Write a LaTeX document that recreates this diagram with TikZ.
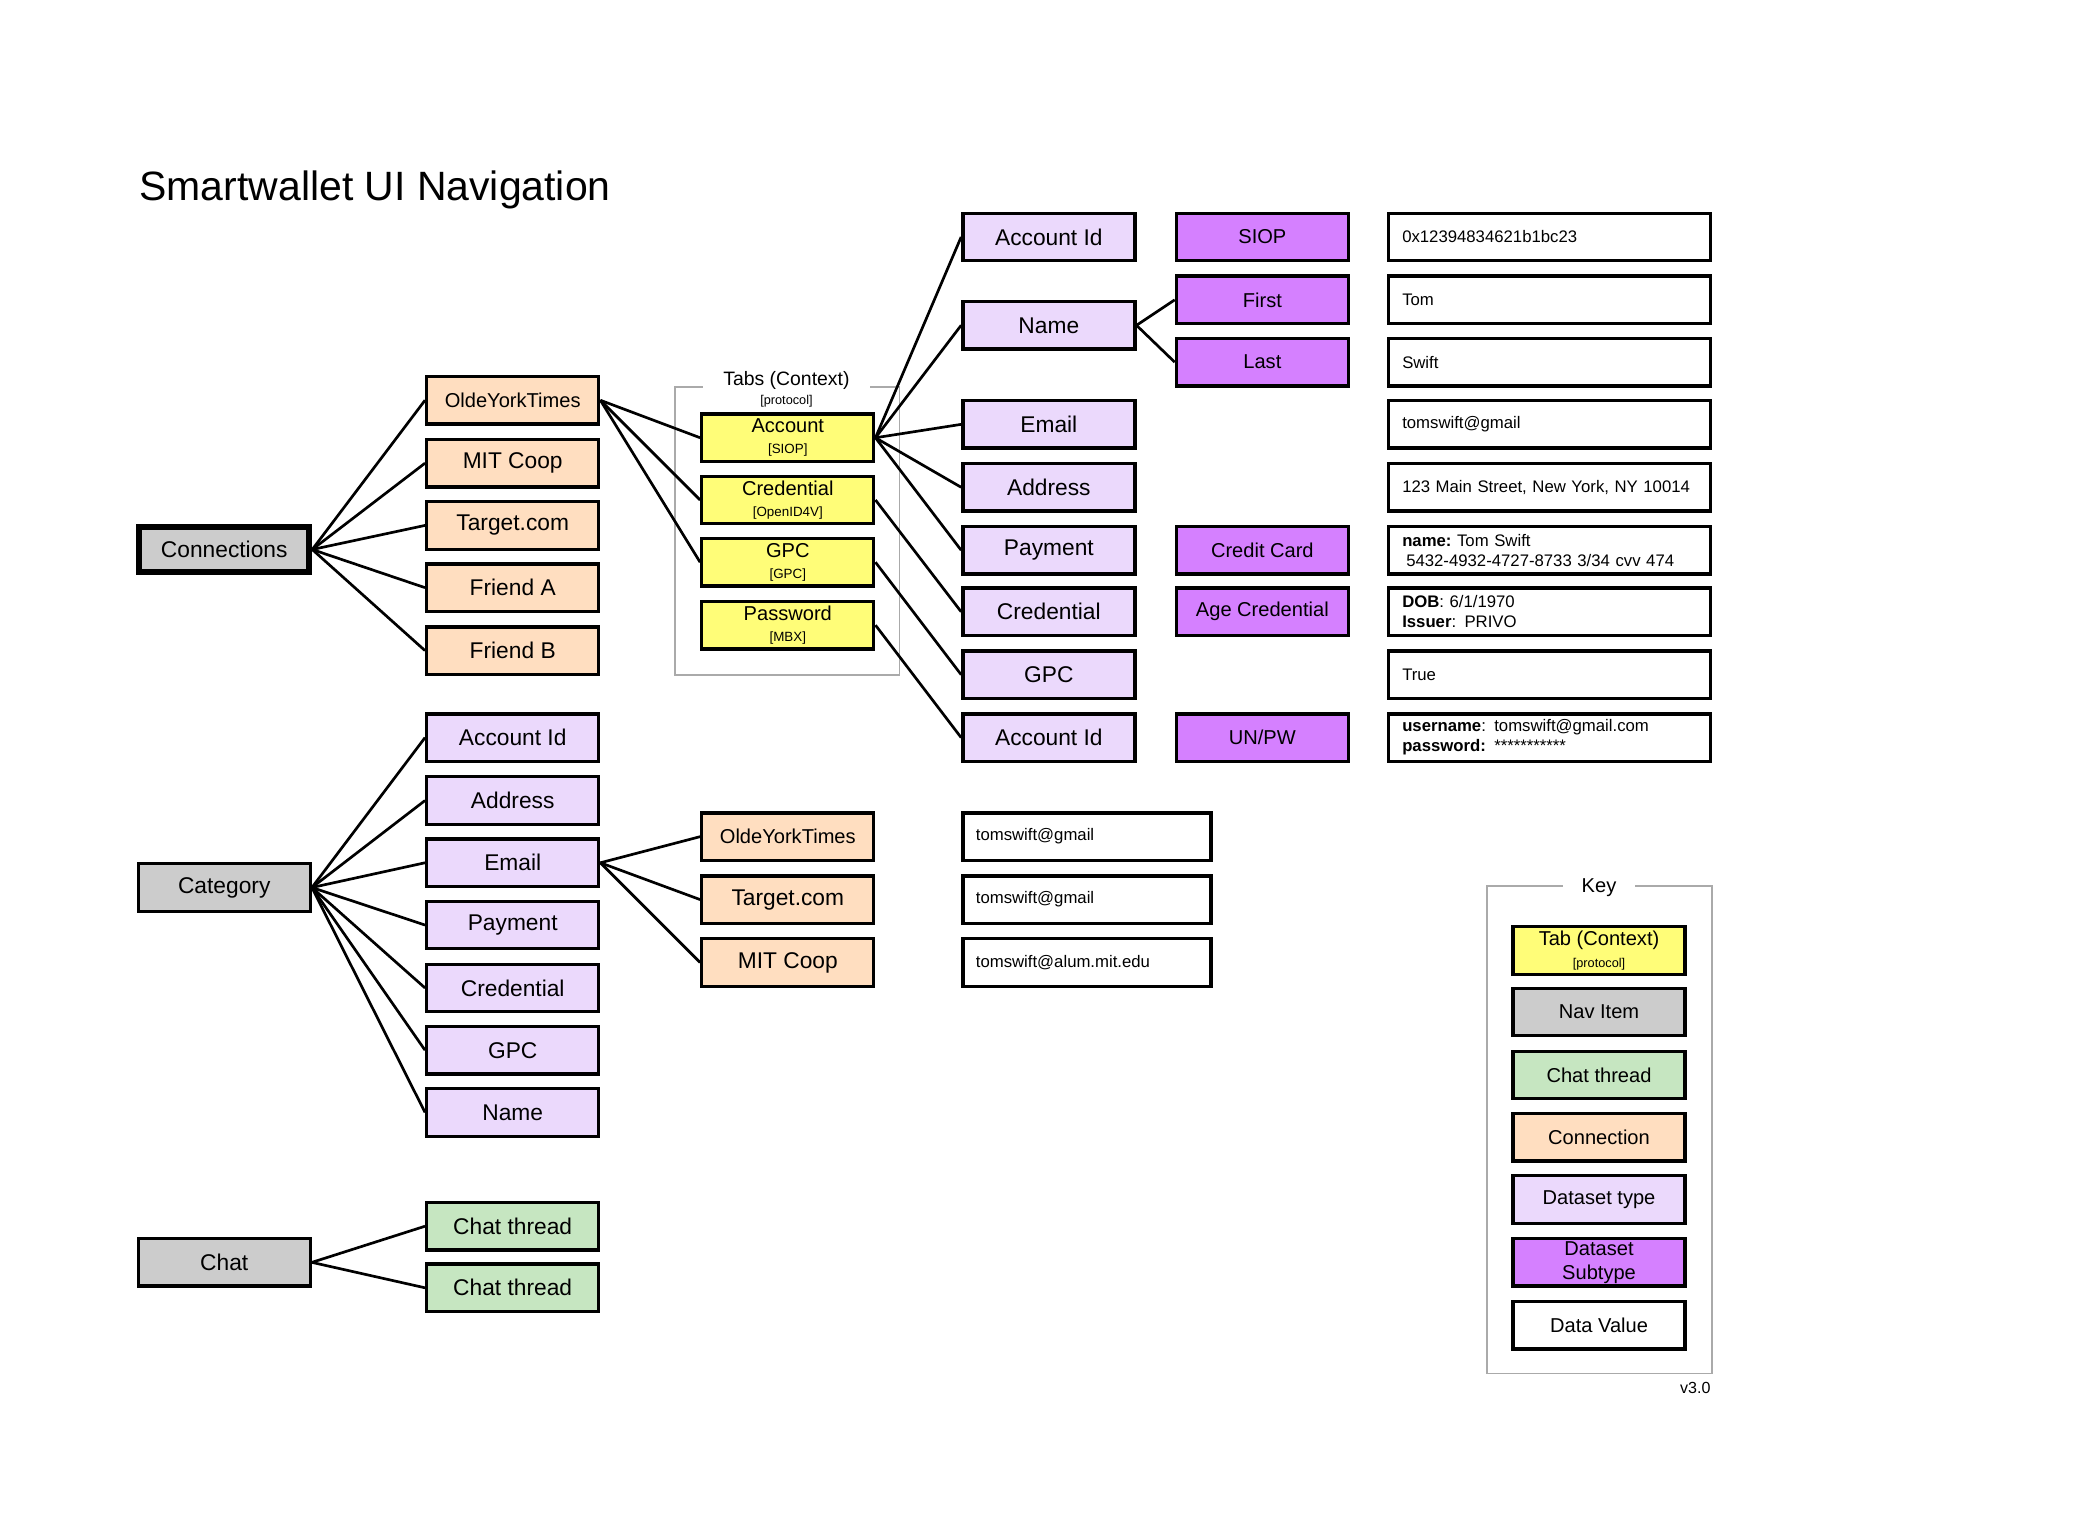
\documentclass[tikz,border=0pt]{standalone}
\usepackage{fontspec}
\setmainfont{Liberation Sans}
\definecolor{peach}{HTML}{FFDEC0}
\definecolor{lav}{HTML}{EBD9FC}
\definecolor{purp}{HTML}{D580FF}
\definecolor{yel}{HTML}{FFFD78}
\definecolor{navgray}{HTML}{CCCCCC}
\definecolor{chatgreen}{HTML}{C6E6C1}
\definecolor{grpgray}{HTML}{AAAAAA}
\tikzset{
  box/.style={draw=black, line width=2.5pt, minimum width=128.5pt, minimum height=35.5pt,
    inner sep=0pt, align=center, font=\fontsize{17}{20}\selectfont},
  nav/.style={box, fill=navgray},
  conn/.style={box, fill=peach},
  connsm/.style={box, fill=peach, font=\fontsize{15}{18}\selectfont},
  dtype/.style={box, fill=lav},
  dsub/.style={box, fill=purp, font=\fontsize{15}{18}\selectfont},
  tabbox/.style={box, fill=yel, font=\fontsize{15}{15}\selectfont},
  chatb/.style={box, fill=chatgreen},
  keybox/.style={box, font=\fontsize{15}{17}\selectfont},
  val/.style={box, fill=white, minimum width=240.5pt, text width=220pt, align=left,
    font=\fontsize{12.5}{15}\selectfont},
  lowval/.style={val, minimum width=185.5pt, text width=166pt},
  link/.style={line width=2pt},
  grp/.style={draw=grpgray, line width=1.3pt}
}
\newcommand{\subt}[1]{{\fontsize{10}{12}\selectfont #1}}
\begin{document}
\begin{tikzpicture}[x=1pt,y=-1pt]
\useasboundingbox (0,0) rectangle (1568,1149);
\fill[white] (0,0) rectangle (1568,1149);

% title
\node[anchor=base west, inner sep=0pt, font=\fontsize{30.6}{34}\selectfont] (title) at (104,150) {Smartwallet UI Navigation};

% groups
\draw[grp] (504,289) rectangle (672,504);
\node[fill=white, inner xsep=15pt, inner ysep=1pt, font=\fontsize{14.5}{16}\selectfont] (tabslbl) at (587.5,284) {Tabs (Context)};
\node[inner sep=0pt, font=\fontsize{9.5}{11}\selectfont] (protlbl) at (587.5,299.5) {[protocol]};

\draw[grp] (1111,662) rectangle (1279,1026);
\node[fill=white, inner xsep=14pt, inner ysep=1pt, font=\fontsize{15}{17}\selectfont] (keylbl) at (1194.5,663) {Key};
\node[anchor=east, inner sep=0pt, font=\fontsize{12}{14}\selectfont] (ver) at (1278,1037) {v3.0};

% left column
\node[nav, line width=4.5pt, minimum width=127pt, minimum height=34pt] (connections) at (167.5,410.5) {Connections};
\node[nav] (category) at (167.5,663) {Category};
\node[nav] (chat) at (167.5,943) {Chat};

% connections children
\node[connsm] (oyt) at (383,299) {OldeYorkTimes};
\node[conn] (mit) at (383,346) {MIT Coop};
\node[conn] (target) at (383,392.5) {Target.com};
\node[conn] (frienda) at (383,439) {Friend A};
\node[conn] (friendb) at (383,486) {Friend B};

% category children
\node[dtype] (cacct) at (383,551) {Account Id};
\node[dtype] (caddr) at (383,598) {Address};
\node[dtype] (cemail) at (383,644.5) {Email};
\node[dtype] (cpay) at (383,691) {Payment};
\node[dtype] (ccred) at (383,738) {Credential};
\node[dtype] (cgpc) at (383,784.5) {GPC};
\node[dtype] (cname) at (383,831) {Name};

% chat threads
\node[chatb] (ct1) at (383,916) {Chat thread};
\node[chatb] (ct2) at (383,962) {Chat thread};

% tabs
\node[tabbox] (tacct) at (588.5,327) {Account\\[1pt]\subt{[SIOP]}};
\node[tabbox] (tcred) at (588.5,373.5) {Credential\\[1pt]\subt{[OpenID4V]}};
\node[tabbox] (tgpc) at (588.5,420) {GPC\\[1pt]\subt{[GPC]}};
\node[tabbox] (tpw) at (588.5,467) {Password\\[1pt]\subt{[MBX]}};

% dataset types (right)
\node[dtype] (dacct) at (783.5,177) {Account Id};
\node[dtype] (dname) at (783.5,243) {Name};
\node[dtype] (demail) at (783.5,317) {Email};
\node[dtype] (daddr) at (783.5,364) {Address};
\node[dtype] (dpay) at (783.5,411) {Payment};
\node[dtype] (dcred) at (783.5,457) {Credential};
\node[dtype] (dgpc) at (783.5,504) {GPC};
\node[dtype] (dacct2) at (783.5,551) {Account Id};

% subtypes
\node[dsub] (ssiop) at (943,177) {SIOP};
\node[dsub] (sfirst) at (943,224) {First};
\node[dsub] (slast) at (943,270.5) {Last};
\node[dsub] (scc) at (943,411) {Credit Card};
\node[dsub] (sage) at (943,457) {Age Credential};
\node[dsub] (sunpw) at (943,551) {UN/PW};

% values
\node[val] (v1) at (1157.5,177) {0x12394834621b1bc23};
\node[val] (v2) at (1157.5,224) {Tom};
\node[val] (v3) at (1157.5,270.5) {Swift};
\node[val] (v4) at (1157.5,317) {tomswift@gmail};
\node[val] (v5) at (1157.5,364) {123 Main Street, New York, NY 10014};
\node[val] (v6) at (1157.5,411) {\textbf{name:}~Tom Swift\\\hspace*{3pt}5432-4932-4727-8733 3/34 cvv 474};
\node[val] (v7) at (1157.5,457) {\textbf{DOB}: 6/1/1970\\\textbf{Issuer}: PRIVO};
\node[val] (v8) at (1157.5,504) {True};
\node[val] (v9) at (1157.5,551) {\textbf{username}: tomswift@gmail.com\\\textbf{password:} ***********};

% lower middle
\node[connsm] (loyt) at (588.5,625) {OldeYorkTimes};
\node[conn] (ltarget) at (588.5,672) {Target.com};
\node[conn] (lmit) at (588.5,719) {MIT Coop};
\node[lowval] (lv1) at (812,625) {tomswift@gmail};
\node[lowval] (lv2) at (812,672) {tomswift@gmail};
\node[lowval] (lv3) at (812,719) {tomswift@alum.mit.edu};

% key
\node[keybox, fill=yel] (k1) at (1194.5,710) {Tab (Context)\\[-1pt]{\fontsize{9.5}{11}\selectfont [protocol]}};
\node[keybox, fill=navgray] (k2) at (1194.5,756) {Nav Item};
\node[keybox, fill=chatgreen] (k3) at (1194.5,803) {Chat thread};
\node[keybox, fill=peach] (k4) at (1194.5,849.5) {Connection};
\node[keybox, fill=lav] (k5) at (1194.5,896) {Dataset type};
\node[keybox, fill=purp] (k6) at (1194.5,943) {Dataset\\[1pt]Subtype};
\node[keybox, fill=white] (k7) at (1194.5,990) {Data Value};

% connectors
\foreach \t in {oyt,mit,target,frienda,friendb}
  \draw[link] (connections.east) -- (\t.west);
\foreach \t in {tacct,tcred,tgpc}
  \draw[link] (oyt.east) -- (\t.west);
\foreach \t in {dacct,dname,demail,daddr,dpay}
  \draw[link] (tacct.east) -- (\t.west);
\draw[link] (tcred.east) -- (dcred.west);
\draw[link] (tgpc.east) -- (dgpc.west);
\draw[link] (tpw.east) -- (dacct2.west);
\draw[link] (dname.east) -- (sfirst.west);
\draw[link] (dname.east) -- (slast.west);
\foreach \t in {cacct,caddr,cemail,cpay,ccred,cgpc,cname}
  \draw[link] (category.east) -- (\t.west);
\foreach \t in {loyt,ltarget,lmit}
  \draw[link] (cemail.east) -- (\t.west);
\draw[link] (chat.east) -- (ct1.west);
\draw[link] (chat.east) -- (ct2.west);
\end{tikzpicture}
\end{document}
